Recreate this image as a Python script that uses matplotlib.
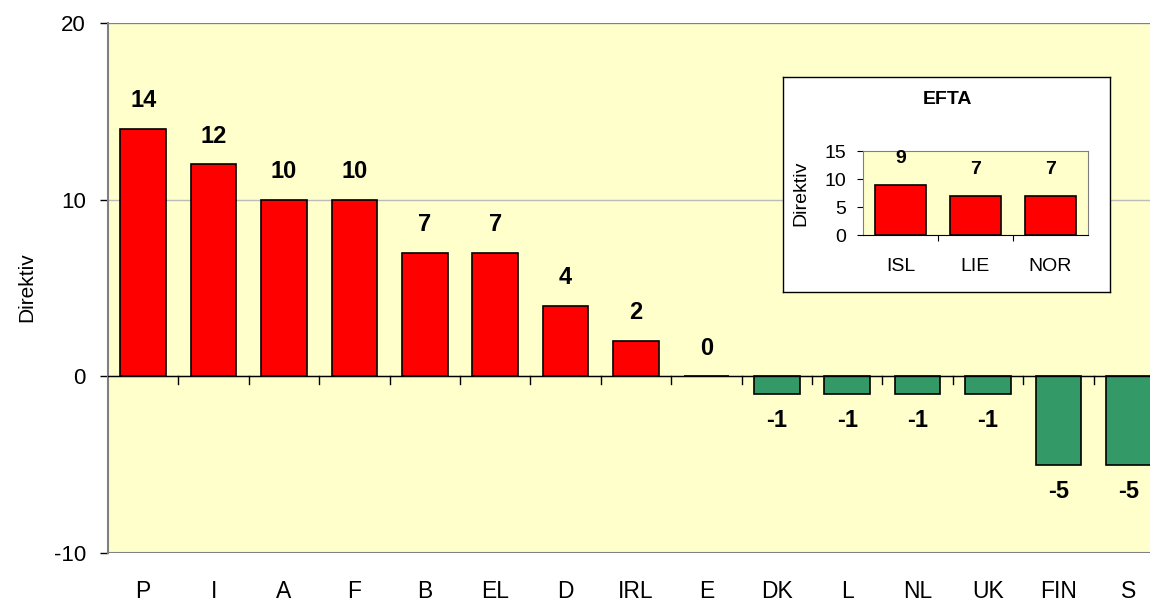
import matplotlib.pyplot as plt

plt.rcParams['font.family'] = ['Liberation Sans', 'DejaVu Sans']
plt.rcParams['axes.unicode_minus'] = False

countries = ['P', 'I', 'A', 'F', 'B', 'EL', 'D', 'IRL', 'E', 'DK', 'L', 'NL', 'UK', 'FIN', 'S']
values = [14, 12, 10, 10, 7, 7, 4, 2, 0, -1, -1, -1, -1, -5, -5]
efta = ['ISL', 'LIE', 'NOR']
efta_values = [9, 7, 7]

bg = '#FFFFCC'
red = '#FF0000'
green = '#339966'

fig = plt.figure(figsize=(11.5, 6.05), dpi=100)
W, H = 1150, 605
# main axes extends past the right edge of the picture
ax = fig.add_axes([108 / W, 1 - 553 / H, 1056 / W, 530 / H])
ax.set_facecolor(bg)

x = list(range(len(countries)))
colors = [red if v >= 0 else green for v in values]
ax.bar(x, values, width=0.65, color=colors, edgecolor='black', linewidth=1.2, zorder=3)
ax.set_xlim(-0.5, len(countries) - 0.5)
ax.set_ylim(-10, 20)
ax.set_yticks([-10, 0, 10, 20])
ax.tick_params(axis='y', labelsize=16, length=6, width=1, color='black', pad=10)
ax.yaxis.grid(True, color='#BBBBBB', linewidth=1, zorder=0)
for s in ['top', 'right', 'bottom']:
    ax.spines[s].set_visible(False)
ax.spines['left'].set_color('#808080')
ax.spines['left'].set_linewidth(1.5)
ax.axhline(0, color='black', linewidth=1, zorder=4)
ax.axhline(20, color='#808080', linewidth=1.5, zorder=4)
ax.axhline(-10, color='#808080', linewidth=1.5, zorder=4)

# category labels below the plot, ticks between categories on zero line
ax.set_xticks([])
for i, c in enumerate(countries):
    ax.text(i, -12.2, c, ha='center', va='center', fontsize=16.5, clip_on=False)
for i in range(len(countries)):
    ax.plot([i + 0.5, i + 0.5], [0, -0.45], color='black', linewidth=1, zorder=4)
fig.text(27 / W, 1 - 287 / H, 'Direktiv', rotation=90, ha='center', va='center', fontsize=15)

for i, v in enumerate(values):
    if v >= 0:
        ax.text(i, v + 1.6, str(v), ha='center', va='center', fontsize=17, fontweight='bold')
    else:
        ax.text(i, v - 1.5, str(v), ha='center', va='center', fontsize=17, fontweight='bold')

# EFTA inset
box = fig.add_axes([783 / W, 1 - 292 / H, 327 / W, 215 / H])
box.set_facecolor('white')
box.set_xticks([])
box.set_yticks([])
for s in box.spines.values():
    s.set_color('black')
    s.set_linewidth(1)
fig.text(947 / W, 1 - 100 / H, 'EFTA', ha='center', va='center',
         fontsize=14, fontweight='bold')

ins = fig.add_axes([863 / W, 1 - 235 / H, 225 / W, 84 / H])
ins.set_facecolor(bg)
ex = list(range(len(efta)))
ins.bar(ex, efta_values, width=0.67, color=red, edgecolor='black', linewidth=1.2, zorder=3)
ins.set_xlim(-0.5, 2.5)
ins.set_ylim(0, 15)
ins.set_yticks([0, 5, 10, 15])
ins.set_xticks([0.5, 1.5], labels=['', ''])
ins.tick_params(axis='x', length=4, color='black')
ins.tick_params(axis='y', labelsize=14, length=4, color='black', pad=8)
for i, c in enumerate(efta):
    ins.text(i, -5.7, c, ha='center', va='center', fontsize=14, clip_on=False)
for s in ['top', 'right', 'left']:
    ins.spines[s].set_color('#808080')
ins.spines['bottom'].set_color('black')
fig.text(801 / W, 1 - 193 / H, 'Direktiv', rotation=90, ha='center', va='center', fontsize=14)
for i, v in enumerate(efta_values):
    ins.text(i, v + 4.7, str(v), ha='center', va='center', fontsize=14, fontweight='bold')

fig.savefig('out.png', dpi=100)
